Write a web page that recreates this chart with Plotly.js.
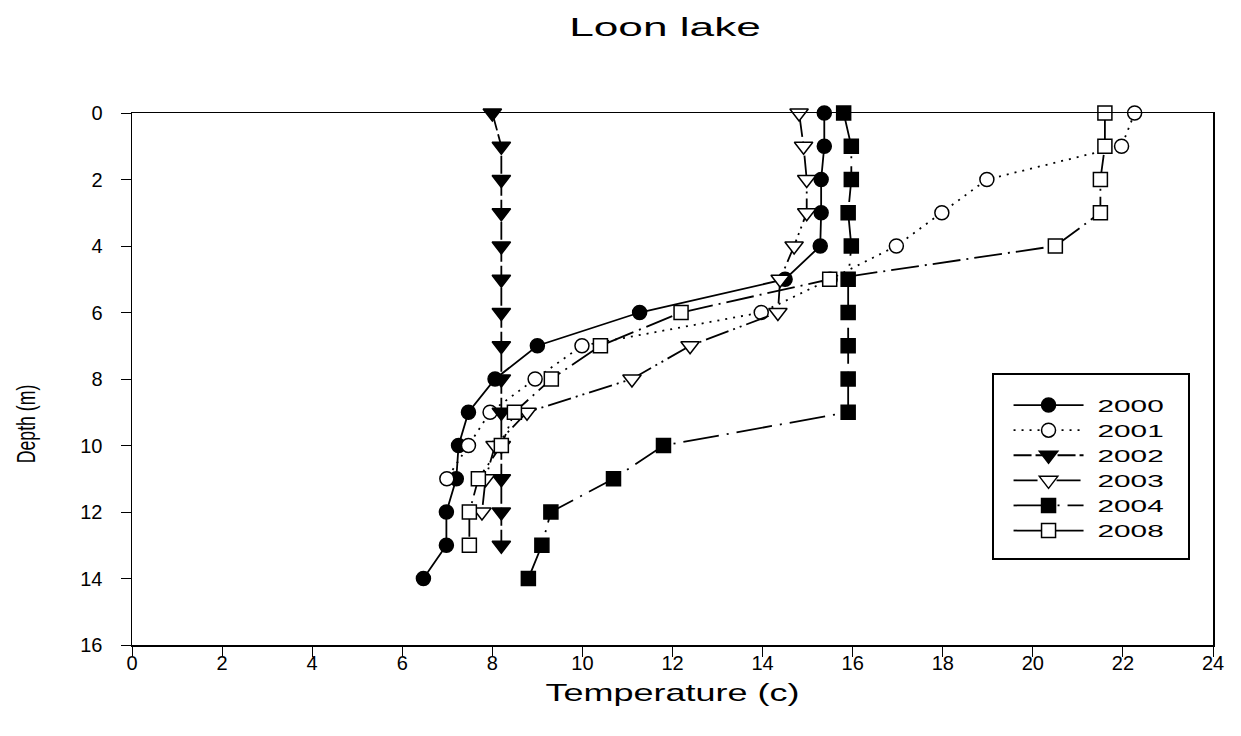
<!DOCTYPE html>
<html>
<head>
<meta charset="utf-8">
<script src="https://cdn.plot.ly/plotly-3.0.1.min.js"></script>
<style>html,body{margin:0;padding:0;background:#fff;}#chart{width:1241px;height:736px;}</style>
</head>
<body>
<div id="chart"></div>
<script>
// Data
const years = ["2000", "2001", "2002", "2003", "2004", "2008"];

const depth2000 = [0,1,2,3,4,5,6,7,8,9,10,11,12,13,14];
const temp2000  = [15.37,15.37,15.3,15.3,15.28,14.5,11.27,9.0,8.06,7.47,7.25,7.2,6.98,6.98,6.47];

const depth2001 = [0,1,2,3,4,5,6,7,8,9,10,11];
const temp2001  = [22.26,21.97,18.98,17.98,16.97,15.5,13.97,9.99,8.95,7.95,7.47,6.99];

const depth2002 = [0,1,2,3,4,5,6,7,8,9,10,11,12,13];
const temp2002  = [8.0,8.2,8.2,8.2,8.2,8.2,8.2,8.2,8.2,8.2,8.2,8.2,8.2,8.2];

const depth2003 = [0,1,2,3,4,5,6,7,8,9,10,11,12];
const temp2003  = [14.81,14.91,14.98,14.98,14.7,14.39,14.34,12.39,11.1,8.77,8.06,7.85,7.77];

const depth2004 = [0,1,2,3,4,5,6,7,8,9,10,11,12,13,14];
const temp2004  = [15.8,15.97,15.97,15.9,15.97,15.9,15.9,15.9,15.9,15.9,11.8,10.69,9.3,9.1,8.8];

const depth2008 = [0,1,2,3,4,5,6,7,8,9,10,11,12,13];
const temp2008  = [21.6,21.6,21.5,21.5,20.5,15.49,12.19,10.4,9.31,8.49,8.2,7.69,7.49,7.49];

const xTicks = [0,2,4,6,8,10,12,14,16,18,20,22,24];
const yTicks = [0,2,4,6,8,10,12,14,16];

const styles = {
  "2000": {symbol: "circle", fill: "black", dash: "solid", size: 14},
  "2001": {symbol: "circle", fill: "white", dash: "2px,6px", size: 14},
  "2002": {symbol: "triangle-down", fill: "black", dash: "18px,4px", size: 16},
  "2003": {symbol: "triangle-down", fill: "white", dash: "24px,5px,2px,5px,2px,5px", size: 16},
  "2004": {symbol: "square", fill: "black", dash: "36px,8px,2px,8px", size: 14},
  "2008": {symbol: "square", fill: "white", dash: "28px,6px,2px,6px", size: 14}
};

const series = {
  "2000": [temp2000, depth2000],
  "2001": [temp2001, depth2001],
  "2002": [temp2002, depth2002],
  "2003": [temp2003, depth2003],
  "2004": [temp2004, depth2004],
  "2008": [temp2008, depth2008]
};

const traces = years.map(y => ({
  type: "scatter",
  mode: "lines+markers",
  name: y,
  x: series[y][0],
  y: series[y][1],
  line: {color: "black", width: 1.8, dash: styles[y].dash},
  marker: {symbol: styles[y].symbol, size: styles[y].size, color: styles[y].fill,
           line: {color: "black", width: 1.5}},
  cliponaxis: false
}));

const font = "Liberation Sans, Arial, sans-serif";

const layout = {
  width: 1241, height: 736,
  paper_bgcolor: "white", plot_bgcolor: "white",
  margin: {l: 132, r: 28, t: 113, b: 91},
  showlegend: true,
  title: {text: "Loon lake", font: {family: font, size: 26, color: "black"},
          x: 665 / 1241, xref: "container", xanchor: "center", y: 0.963, yref: "container", yanchor: "middle"},
  xaxis: {
    range: [0, 24], tickvals: xTicks, ticktext: xTicks.map(String),
    showgrid: false, zeroline: false,
    showline: true, linecolor: "black", linewidth: 1.5, mirror: true,
    ticks: "outside", ticklen: 10, tickcolor: "black", tickwidth: 1,
    tickfont: {family: font, size: 20, color: "black"},
    title: {text: "Temperature (c)", font: {family: font, size: 24, color: "black"}, standoff: 20}
  },
  yaxis: {
    range: [16, 0], tickvals: yTicks, ticktext: yTicks.map(String),
    showgrid: false, zeroline: false,
    showline: true, linecolor: "black", linewidth: 1.5, mirror: true,
    ticks: "outside", ticklen: 10, tickcolor: "black", tickwidth: 1,
    ticklabelstandoff: 14,
    tickfont: {family: font, size: 20, color: "black"},
    title: {text: "Depth (m)", font: {family: font, size: 26, color: "black"}, standoff: 24}
  },
  legend: {
    x: 0.7956, y: (645 - 386) / 532, xanchor: "left", yanchor: "top",
    bgcolor: "white", bordercolor: "black", borderwidth: 1.5,
    font: {family: font, size: 17, color: "black"},
    itemwidth: 70, tracegroupgap: 0
  }
};

// horizontal stretch of text around its anchor (the reference text is stretched)
function stretch(el, sx, dx, dy) {
  const x = parseFloat(el.getAttribute("x")) || 0;
  const y = parseFloat(el.getAttribute("y")) || 0;
  const prev = el.getAttribute("transform") || "";
  const pre = (dx || dy) ? "translate(" + (dx || 0) + "," + (dy || 0) + ") " : "";
  el.setAttribute("transform", pre + prev + " translate(" + x + "," + y + ") scale(" + sx + ",1) translate(" + (-x) + "," + (-y) + ")");
}

function shift(el, dx, dy) {
  const prev = el.getAttribute("transform") || "";
  el.setAttribute("transform", "translate(" + dx + "," + dy + ") " + prev);
}

Plotly.newPlot("chart", traces, layout, {displayModeBar: false, staticPlot: true}).then(gd => {
  gd.querySelectorAll(".gtitle").forEach(el => stretch(el, 1.7, 0, 0));
  gd.querySelectorAll(".xtitle").forEach(el => stretch(el, 1.5, 0, -20));
  gd.querySelectorAll(".ytitle").forEach(el => stretch(el, 0.68, -13, 45));
  gd.querySelectorAll(".xtick text").forEach(el => shift(el, 0, -11));
  gd.querySelectorAll(".legend [clip-path]").forEach(el => el.removeAttribute("clip-path"));
  gd.querySelectorAll(".legendtext").forEach(el => stretch(el, 1.75, 24, 0));
  gd.querySelectorAll(".legend .legendpoints").forEach(el => shift(el, 15, 0));
  gd.querySelectorAll(".legend .legendlines").forEach(el => shift(el, 15, 0));
  gd.querySelectorAll(".legend rect.bg").forEach(r => {
    const y0 = parseFloat(r.getAttribute("y")) || 0;
    r.setAttribute("y", y0 - 13);
    r.setAttribute("width", 196);
    r.setAttribute("height", 185);
  });
});
</script>
</body>
</html>
